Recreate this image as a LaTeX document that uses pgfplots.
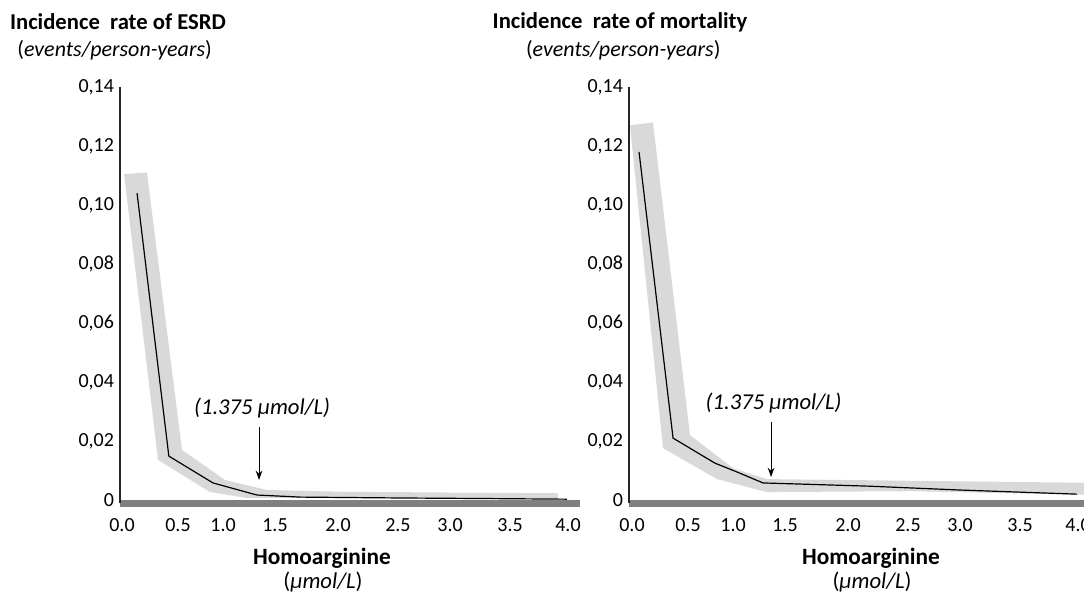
\documentclass[border=0pt]{standalone}
\usepackage{pgfplots}
\pgfplotsset{compat=1.18}
\usepackage{fontspec}
\setmainfont{Carlito}
\usetikzlibrary{arrows.meta}
\definecolor{bandgray}{HTML}{D9D9D9}
\definecolor{bargray}{HTML}{808080}
\pgfplotsset{panel/.style={
  scale only axis, height=312pt, ymin=-0.001, ymax=0.14,
  axis lines=left,
  x axis line style={-, line width=5.25pt, color=bargray},
  y axis line style={-, line width=0.9pt, color=black!85},
  major tick length=0pt, tick style={draw=none},
  ytick={0,0.02,0.04,0.06,0.08,0.10,0.12,0.14},
  yticklabels={0,{0,02},{0,04},{0,06},{0,08},{0,10},{0,12},{0,14}},
  xtick={0,0.502,0.906,1.372,1.937,2.475,2.942,3.48,4.0},
  xticklabels={0.0,0.5,1.0,1.5,2.0,2.5,3.0,3.5,4.0},
  tick label style={font=\fontsize{15}{17}\selectfont},
  xticklabel style={yshift=-8pt},
  yticklabel style={xshift=-1pt},
  /pgf/number format/assume math mode=true,
  anchor=south west, clip=false,
}}
\begin{document}
\begin{tikzpicture}
\useasboundingbox (0,0) rectangle (813pt,-446.25pt);
\clip (0,0) rectangle (813pt,-446.25pt);
% left panel
\begin{axis}[panel, at={(90pt,-377.25pt)}, width=345.2pt, xmin=-0.018, xmax=4.11]
\addplot[fill=bandgray, draw=none] coordinates {
 (0.018,0.1105) (0.224,0.111) (0.538,0.017) (0.924,0.0068) (1.30,0.0034) (2.0,0.0028) (3.91,0.0023)
 (3.91,0.0007) (1.12,0.0007) (0.789,0.0027) (0.323,0.0136)} -- cycle;
\addplot[black, line width=0.9pt] coordinates {
 (0.135,0.104) (0.42,0.0149) (0.816,0.0058) (1.21,0.0017) (1.60,0.0010) (2.5,0.0007) (3.3,0.0005) (3.99,0.0003)};
\node[font=\fontsize{17}{19}\selectfont\itshape] at (axis cs:1.256,0.0312) {(1.375 µmol/L)};
\draw[-{Stealth[length=7pt,width=5pt]}, line width=0.8pt] (axis cs:1.229,0.0247) -- (axis cs:1.229,0.0068);
\end{axis}
% right panel
\begin{axis}[panel, at={(471.75pt,-377.25pt)}, width=353.5pt, xmin=-0.027, xmax=4.2]
\addplot[fill=bandgray, draw=none] coordinates {
 (-0.018,0.127) (0.188,0.128) (0.52,0.022) (0.906,0.0108) (1.21,0.0071) (4.2,0.0058)
 (4.2,0.0017) (2.5,0.0030) (1.21,0.0027) (0.762,0.0071) (0.278,0.0176)} -- cycle;
\addplot[black, line width=0.9pt] coordinates {
 (0.063,0.118) (0.368,0.021) (0.744,0.0125) (0.942,0.0095) (1.175,0.0058) (2.13,0.0047) (2.94,0.0034) (3.99,0.002)};
\node[font=\fontsize{17}{19}\selectfont\itshape] at (axis cs:1.27,0.0329) {(1.375 µmol/L)};
\draw[-{Stealth[length=7pt,width=5pt]}, line width=0.8pt] (axis cs:1.247,0.0264) -- (axis cs:1.247,0.0078);
\end{axis}
% titles
\node[anchor=west, font=\fontsize{17}{20}\selectfont\bfseries] at (4pt,-16.5pt) {Incidence\ \ rate of ESRD};
\node[anchor=west, font=\fontsize{16.5}{19}\selectfont] at (9.5pt,-37.5pt) {(\textit{events/person-years})};
\node[anchor=west, font=\fontsize{17}{20}\selectfont\bfseries] at (366pt,-16.5pt) {Incidence\ \ rate of mortality};
\node[anchor=west, font=\fontsize{16.5}{19}\selectfont] at (391pt,-37.5pt) {(\textit{events/person-years})};
% x labels
\node[font=\fontsize{17.5}{20}\selectfont\bfseries] at (241.5pt,-418.5pt) {Homoarginine};
\node[font=\fontsize{17}{20}\selectfont] at (242.25pt,-436.5pt) {(\textit{µmol/L})};
\node[font=\fontsize{17.5}{20}\selectfont\bfseries] at (653.25pt,-418.5pt) {Homoarginine};
\node[font=\fontsize{17}{20}\selectfont] at (654pt,-436.5pt) {(\textit{µmol/L})};
\end{tikzpicture}
\end{document}
